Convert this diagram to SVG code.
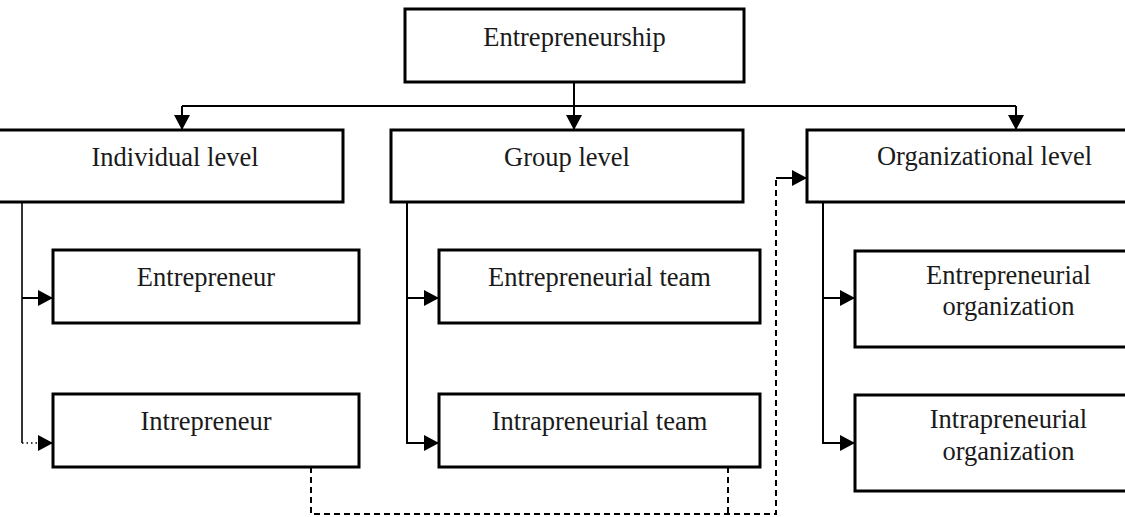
<svg xmlns="http://www.w3.org/2000/svg" width="1125" height="517" viewBox="0 0 1125 517">
  <style>
    .box { fill: #fff; stroke: #000; stroke-width: 3; }
    .t { font-family: "Liberation Serif", "Times New Roman", serif; font-size: 26.5px; fill: #1a1a1a; text-anchor: middle; }
    .c { fill: none; stroke: #000; stroke-width: 2; }
    .dash { fill: none; stroke: #000; stroke-width: 2; stroke-dasharray: 6 4; }
    .dot { fill: none; stroke: #000; stroke-width: 1.5; stroke-dasharray: 1.5 3; }
  </style>
  <defs>
    <marker id="ah" markerUnits="userSpaceOnUse" markerWidth="15" markerHeight="16" viewBox="0 0 15 16" refX="15" refY="8" orient="auto">
      <path d="M0,0 L15,8 L0,16 Z" fill="#000"/>
    </marker>
  </defs>
  <rect width="1125" height="517" fill="#fff"/>

  <g id="connectors">
    <path class="c" d="M574,82 V130" marker-end="url(#ah)"/>
    <path class="c" d="M182,106 H1016"/>
    <path class="c" d="M182,106 V130" marker-end="url(#ah)"/>
    <path class="c" d="M1016,106 V130" marker-end="url(#ah)"/>
    <path class="c" d="M22,202 V443" style="stroke-width:1.6"/>
    <path class="c" d="M22,298 H53" marker-end="url(#ah)"/>
    <path class="dot" d="M22,443 H40"/>
    <path class="c" d="M40,443 H53" marker-end="url(#ah)"/>
    <path class="c" d="M407,202 V443 H439" marker-end="url(#ah)"/>
    <path class="c" d="M407,298 H439" marker-end="url(#ah)"/>
    <path class="c" d="M823,202 V443 H855" marker-end="url(#ah)"/>
    <path class="c" d="M823,298 H855" marker-end="url(#ah)"/>
    <path class="dash" d="M311,467 V514 H776 V178"/>
    <path class="dash" d="M728,467 V514"/>
    <path class="c" d="M776,178 H807" marker-end="url(#ah)"/>
  </g>

  <g id="entrepreneurship">
    <rect class="box" x="405" y="9" width="339" height="73"/>
    <text class="t" x="574.5" y="46">Entrepreneurship</text>
  </g>
  <g id="individual-level">
    <path class="box" d="M-10,130 H343 V202 H-10"/>
    <text class="t" x="175" y="166">Individual level</text>
  </g>
  <g id="group-level">
    <rect class="box" x="391" y="130" width="352" height="72"/>
    <text class="t" x="567" y="166">Group level</text>
  </g>
  <g id="organizational-level">
    <rect class="box" x="807" y="130" width="360" height="72"/>
    <text class="t" x="984.5" y="165">Organizational level</text>
  </g>
  <g id="entrepreneur">
    <rect class="box" x="53" y="250" width="306" height="73"/>
    <text class="t" x="206" y="286">Entrepreneur</text>
  </g>
  <g id="intrepreneur">
    <rect class="box" x="53" y="394" width="306" height="73"/>
    <text class="t" x="206" y="430">Intrepreneur</text>
  </g>
  <g id="entrepreneurial-team">
    <rect class="box" x="439" y="250" width="321" height="73"/>
    <text class="t" x="599.5" y="286">Entrepreneurial team</text>
  </g>
  <g id="intrapreneurial-team">
    <rect class="box" x="439" y="394" width="321" height="73"/>
    <text class="t" x="599.5" y="430">Intrapreneurial team</text>
  </g>
  <g id="entrepreneurial-organization">
    <rect class="box" x="855" y="251" width="310" height="96"/>
    <text class="t" x="1008.5" y="284">Entrepreneurial</text>
    <text class="t" x="1008.5" y="315">organization</text>
  </g>
  <g id="intrapreneurial-organization">
    <rect class="box" x="855" y="395" width="310" height="96"/>
    <text class="t" x="1008.5" y="428">Intrapreneurial</text>
    <text class="t" x="1008.5" y="460">organization</text>
  </g>
</svg>
